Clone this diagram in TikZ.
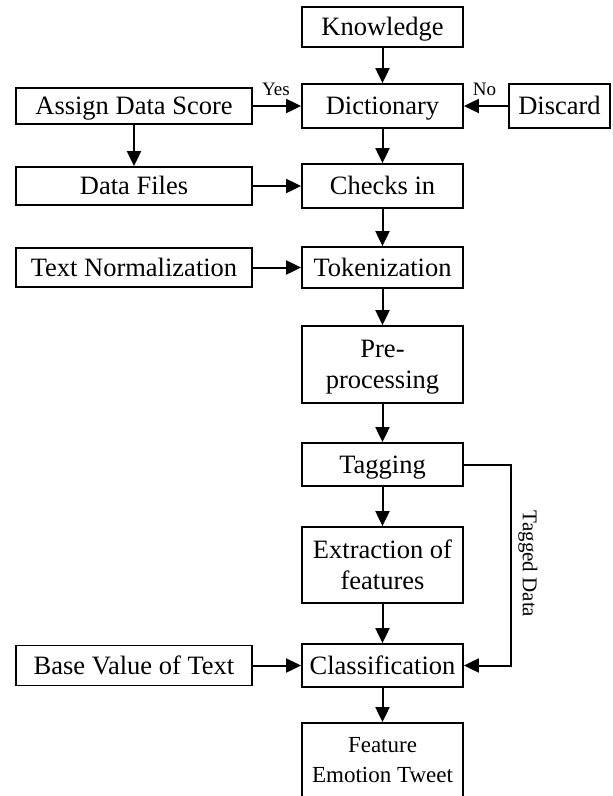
\documentclass[tikz,border=0pt]{standalone}
\usepackage{fontspec}
\setmainfont{Liberation Serif}
\usetikzlibrary{arrows.meta}
\begin{document}
\begin{tikzpicture}[x=1pt,y=-1pt,
  blk/.style={draw, line width=1.8pt, inner sep=0pt, align=center,
    font=\fontsize{26.5}{31}\selectfont, text height=17.5pt, text depth=0pt},
  twoline/.style={text height={}, text depth=0pt},
  mid/.style={blk, minimum width=161pt},
  side/.style={blk, minimum width=236pt},
  arr/.style={line width=2pt, -{Triangle[length=15pt,width=14pt]}},
  tag/.style={inner sep=0pt, font=\fontsize{19}{22}\selectfont}]
\useasboundingbox (0,0) rectangle (613,796);

% main column
\node[mid, minimum height=40pt] (kn)  at (382.5,27)    {Knowledge};
\node[mid, minimum height=44pt] (dic) at (382.5,106)   {Dictionary};
\node[mid, minimum height=44pt] (chk) at (382.5,186)   {Checks in};
\node[mid, minimum height=41pt] (tok) at (382.5,267.5) {Tokenization};
\node[mid, twoline, minimum height=77pt] (pre) at (382.5,364.5) {Pre-\\processing};
\node[mid, minimum height=43pt] (tg)  at (382.5,464.5) {Tagging};
\node[mid, twoline, minimum height=76pt] (ext) at (382.5,565) {Extraction of\\features};
\node[mid, minimum height=43pt] (cls) at (382.5,665.5) {Classification};
\node[mid, twoline, text depth=6pt, minimum height=80pt,
      font=\fontsize{23}{30}\selectfont] (fet) at (382.5,763) {Feature\\Emotion Tweet};

% side inputs
\node[side, minimum height=36pt] (ads) at (134,106)   {Assign Data Score};
\node[side, minimum height=38pt] (dfl) at (134,186)   {Data Files};
\node[side, minimum height=39pt] (tn)  at (134,267.5) {Text Normalization};
\node[side, minimum height=40pt] (bv)  at (134,665.5) {Base Value of Text};
\node[blk, minimum width=101pt, minimum height=44pt] (dis) at (559.5,106) {Discard};

% connectors
\draw[arr] (kn)  -- (dic);
\draw[arr] (dic) -- (chk);
\draw[arr] (chk) -- (tok);
\draw[arr] (tok) -- (pre);
\draw[arr] (pre) -- (tg);
\draw[arr] (tg)  -- (ext);
\draw[arr] (ext) -- (cls);
\draw[arr] (cls) -- (fet);
\draw[arr] (ads) -- (dic);
\draw[arr] (dis) -- (dic);
\draw[arr] (ads) -- (dfl);
\draw[arr] (dfl) -- (chk);
\draw[arr] (tn)  -- (tok);
\draw[arr] (bv)  -- (cls);
\coordinate (bend) at (511,464.5);
\draw[arr] (tg.east) -- (bend) |- (cls.east);

% labels
\node[tag, anchor=base] (yes) at (276,95) {Yes};
\node[tag, anchor=base] (no)  at (484.5,95) {No};
\node[tag, font=\fontsize{21}{24}\selectfont, rotate=-90] (tdl) at (528,564) {Tagged Data};
\end{tikzpicture}
\end{document}
